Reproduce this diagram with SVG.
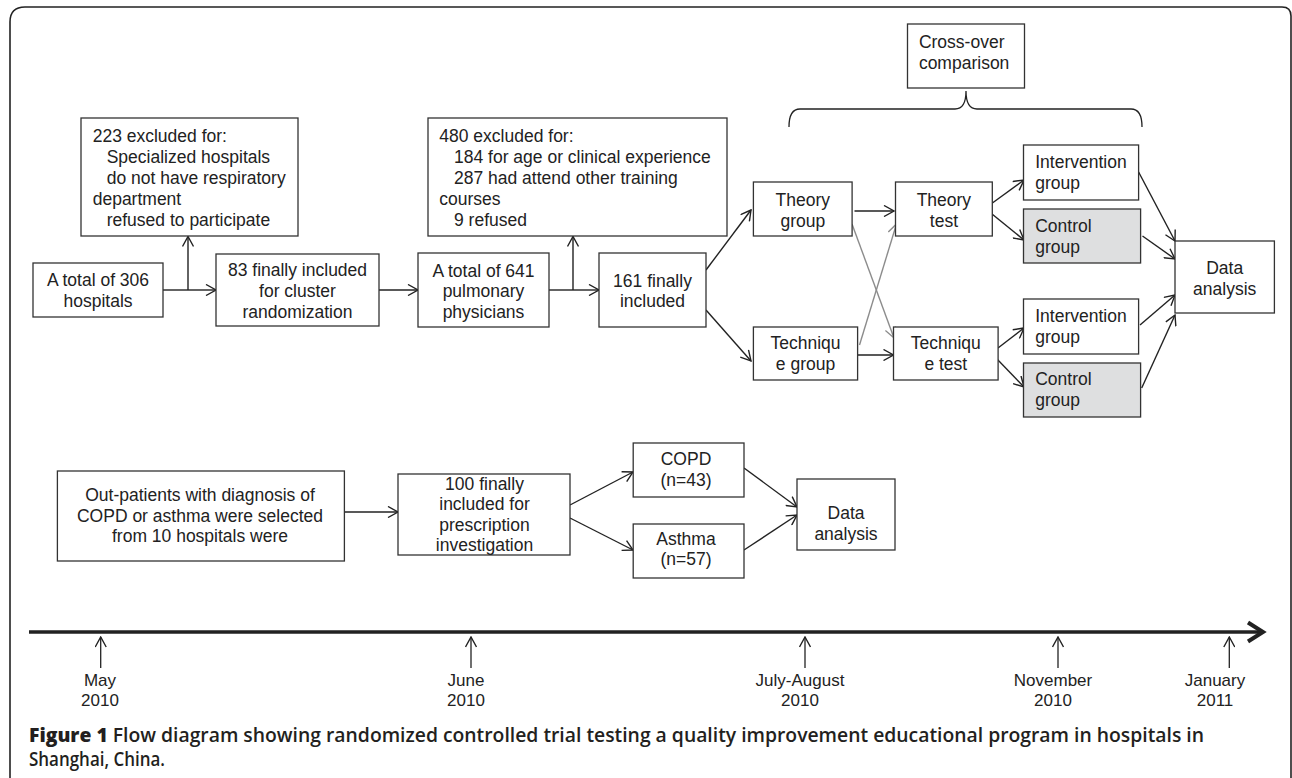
<svg xmlns="http://www.w3.org/2000/svg" width="1292" height="778" viewBox="0 0 1292 778">
<defs>
<style>
.b{fill:#fff;stroke:#333;stroke-width:1.3}
.g{fill:#dedfe0;stroke:#333;stroke-width:1.3}
.t{font-family:"Liberation Sans",Arial,sans-serif;font-size:17.5px;fill:#222}
.m{text-anchor:middle}
.c{fill:none;stroke:#222;stroke-width:1.4;marker-end:url(#a)}
.cg{fill:none;stroke:#8c8c8c;stroke-width:1.4;marker-end:url(#ag)}
.l{fill:none;stroke:#222;stroke-width:1.4}
.tk{fill:none;stroke:#222;stroke-width:1.3;marker-end:url(#a)}
.tl{font-family:"Liberation Sans",Arial,sans-serif;font-size:17px;fill:#222;text-anchor:middle}
.cap{font-family:"Open Sans","Noto Sans",sans-serif;font-size:20px;fill:#231f20;font-weight:600}
</style>
<marker id="a" viewBox="0 0 12 12" refX="11" refY="6" markerWidth="12" markerHeight="12" markerUnits="userSpaceOnUse" orient="auto"><path d="M1,0.5 L11,6 L1,11.5" fill="none" stroke="#222" stroke-width="1.4"/></marker>
<marker id="ag" viewBox="0 0 12 12" refX="11" refY="6" markerWidth="12" markerHeight="12" markerUnits="userSpaceOnUse" orient="auto"><path d="M1,0.5 L11,6 L1,11.5" fill="none" stroke="#8c8c8c" stroke-width="1.4"/></marker>
</defs>
<rect width="1292" height="778" fill="#fff"/>
<path d="M10,778 V22 Q10,7 25,7 H1282 Q1291,7 1291,16 V778" fill="none" stroke="#222" stroke-width="1.6"/>

<g id="connectors">
<path class="l" d="M163,290 H188"/>
<path class="c" d="M188,290 H216"/>
<path class="c" d="M188,290 V236.5"/>
<path class="c" d="M379,290 H418"/>
<path class="l" d="M549,290 H573"/>
<path class="c" d="M573,290 H599"/>
<path class="c" d="M573,290 V236.5"/>
<path class="c" d="M706,270 L751,210"/>
<path class="c" d="M706,310 L751,361"/>
<path class="c" d="M854.5,211 H894"/>
<path class="c" d="M856,355 H893.5"/>
<path class="cg" d="M852,224 L894,338"/>
<path class="cg" d="M859.5,345 L896.5,224"/>
<path class="c" d="M991,204 L1024,180"/>
<path class="c" d="M992,214 L1024,240"/>
<path class="c" d="M998,348 L1024,328"/>
<path class="c" d="M996,358 L1024,387"/>
<path class="c" d="M1138.6,172 L1175,241"/>
<path class="c" d="M1142.5,236 L1175,259"/>
<path class="c" d="M1140,325 L1175,295"/>
<path class="c" d="M1141.7,388 L1175,315"/>
<path d="M789,127 Q789,109 800,109 H955 Q966,109 966,91 Q966,109 977,109 H1131 Q1142,109 1142,127" fill="none" stroke="#222" stroke-width="1.3"/>
<path class="c" d="M344.4,512 H398"/>
<path class="c" d="M570,505 L633,472"/>
<path class="c" d="M570,518 L633,550"/>
<path class="c" d="M744,468 L797,507"/>
<path class="c" d="M744,550 L797,515"/>
</g>

<g id="n223"><rect class="b" x="81" y="118" width="217" height="118"/>
<text class="t"><tspan x="92.7" y="141.7">223 excluded for:</tspan><tspan x="106.7" y="162.7">Specialized hospitals</tspan><tspan x="106.7" y="183.7">do not have respiratory</tspan><tspan x="92.7" y="204.7">department</tspan><tspan x="106.7" y="225.7">refused to participate</tspan></text></g>

<g id="n306"><rect class="b" x="33" y="263" width="130" height="54"/>
<text class="t m"><tspan x="98" y="286">A total of 306</tspan><tspan x="98" y="306.7">hospitals</tspan></text></g>

<g id="n83"><rect class="b" x="216" y="254" width="163" height="72"/>
<text class="t m"><tspan x="297.5" y="276">83 finally included</tspan><tspan x="297.5" y="296.7">for cluster</tspan><tspan x="297.5" y="317.5">randomization</tspan></text></g>

<g id="n480"><rect class="b" x="428" y="118" width="299" height="118"/>
<text class="t"><tspan x="439.3" y="141.7">480 excluded for:</tspan><tspan x="454" y="162.7">184 for age or clinical experience</tspan><tspan x="454" y="183.7">287 had attend other training</tspan><tspan x="439.3" y="204.7">courses</tspan><tspan x="454" y="225.7">9 refused</tspan></text></g>

<g id="n641"><rect class="b" x="418" y="253" width="131" height="74"/>
<text class="t m"><tspan x="483.5" y="276.5">A total of 641</tspan><tspan x="483.5" y="297">pulmonary</tspan><tspan x="483.5" y="317.5">physicians</tspan></text></g>

<g id="n161"><rect class="b" x="599" y="253" width="107" height="74"/>
<text class="t m"><tspan x="652.5" y="286.7">161 finally</tspan><tspan x="652.5" y="306.7">included</tspan></text></g>

<g id="ncross"><rect class="b" x="907.5" y="24" width="117" height="64"/>
<text class="t"><tspan x="918.9" y="48.3">Cross-over</tspan><tspan x="918.9" y="69">comparison</tspan></text></g>

<g id="ntheoryg"><rect class="b" x="753.4" y="182" width="98.7" height="54"/>
<text class="t m"><tspan x="802.8" y="205.7">Theory</tspan><tspan x="802.8" y="226.7">group</tspan></text></g>

<g id="ntheoryt"><rect class="b" x="895.5" y="182" width="96.8" height="54"/>
<text class="t m"><tspan x="943.9" y="205.7">Theory</tspan><tspan x="943.9" y="226.7">test</tspan></text></g>

<g id="ntechg"><rect class="b" x="753.4" y="327" width="104.2" height="53"/>
<text class="t m"><tspan x="805.5" y="349.3">Techniqu</tspan><tspan x="805.5" y="370">e group</tspan></text></g>

<g id="ntecht"><rect class="b" x="893.5" y="327" width="104.6" height="53"/>
<text class="t m"><tspan x="945.8" y="349.3">Techniqu</tspan><tspan x="945.8" y="370">e test</tspan></text></g>

<g id="nint1"><rect class="b" x="1023.5" y="145" width="115.1" height="55"/>
<text class="t"><tspan x="1035.2" y="168.3">Intervention</tspan><tspan x="1035.2" y="189.3">group</tspan></text></g>

<g id="nctl1"><rect class="g" x="1023.5" y="209" width="117.1" height="54"/>
<text class="t"><tspan x="1035.2" y="232.3">Control</tspan><tspan x="1035.2" y="253.3">group</tspan></text></g>

<g id="nint2"><rect class="b" x="1023.5" y="299" width="115.1" height="55"/>
<text class="t"><tspan x="1035.2" y="321.7">Intervention</tspan><tspan x="1035.2" y="342.7">group</tspan></text></g>

<g id="nctl2"><rect class="g" x="1023.5" y="363" width="117.1" height="54"/>
<text class="t"><tspan x="1035.2" y="385">Control</tspan><tspan x="1035.2" y="406">group</tspan></text></g>

<g id="nda1"><rect class="b" x="1175" y="241" width="99.4" height="72"/>
<text class="t m"><tspan x="1224.7" y="274">Data</tspan><tspan x="1224.7" y="295">analysis</tspan></text></g>

<g id="nout"><rect class="b" x="57.4" y="471" width="287" height="90"/>
<text class="t m"><tspan x="200" y="501">Out-patients with diagnosis of</tspan><tspan x="200" y="521.7">COPD or asthma were selected</tspan><tspan x="200" y="542">from 10 hospitals were</tspan></text></g>

<g id="n100"><rect class="b" x="398" y="474" width="172" height="81"/>
<text class="t m"><tspan x="484.5" y="490">100 finally</tspan><tspan x="484.5" y="510.3">included for</tspan><tspan x="484.5" y="530.7">prescription</tspan><tspan x="484.5" y="551">investigation</tspan></text></g>

<g id="ncopd"><rect class="b" x="633.2" y="443" width="110.8" height="54"/>
<text class="t m"><tspan x="686" y="465">COPD</tspan><tspan x="686" y="486">(n=43)</tspan></text></g>

<g id="nasthma"><rect class="b" x="633.2" y="524" width="110.8" height="54"/>
<text class="t m"><tspan x="686" y="545">Asthma</tspan><tspan x="686" y="565">(n=57)</tspan></text></g>

<g id="nda2"><rect class="b" x="797" y="479" width="98" height="71"/>
<text class="t m"><tspan x="846" y="519">Data</tspan><tspan x="846" y="539.5">analysis</tspan></text></g>

<g id="timeline">
<path d="M29,632 H1262" stroke="#222" stroke-width="3.6" fill="none"/>
<path d="M1248,622.5 L1263,632 L1248,641.5" stroke="#222" stroke-width="4" fill="none"/>
<path class="tk" d="M100.7,668 V637"/>
<path class="tk" d="M471,668 V637"/>
<path class="tk" d="M805,668 V637"/>
<path class="tk" d="M1058,668 V637"/>
<path class="tk" d="M1229.3,668 V637"/>
<text class="tl"><tspan x="100" y="686">May</tspan><tspan x="100" y="706">2010</tspan></text>
<text class="tl"><tspan x="466" y="686">June</tspan><tspan x="466" y="706">2010</tspan></text>
<text class="tl"><tspan x="800" y="686">July-August</tspan><tspan x="800" y="706">2010</tspan></text>
<text class="tl"><tspan x="1053" y="686">November</tspan><tspan x="1053" y="706">2010</tspan></text>
<text class="tl"><tspan x="1215" y="686">January</tspan><tspan x="1215" y="706">2011</tspan></text>
</g>

<g id="caption">
<text class="cap" x="29" y="741.5" textLength="1175" lengthAdjust="spacingAndGlyphs"><tspan font-weight="800">Figure 1</tspan> Flow diagram showing randomized controlled trial testing a quality improvement educational program in hospitals in</text>
<text class="cap" x="29" y="766" textLength="136" lengthAdjust="spacingAndGlyphs">Shanghai, China.</text>
</g>
</svg>
